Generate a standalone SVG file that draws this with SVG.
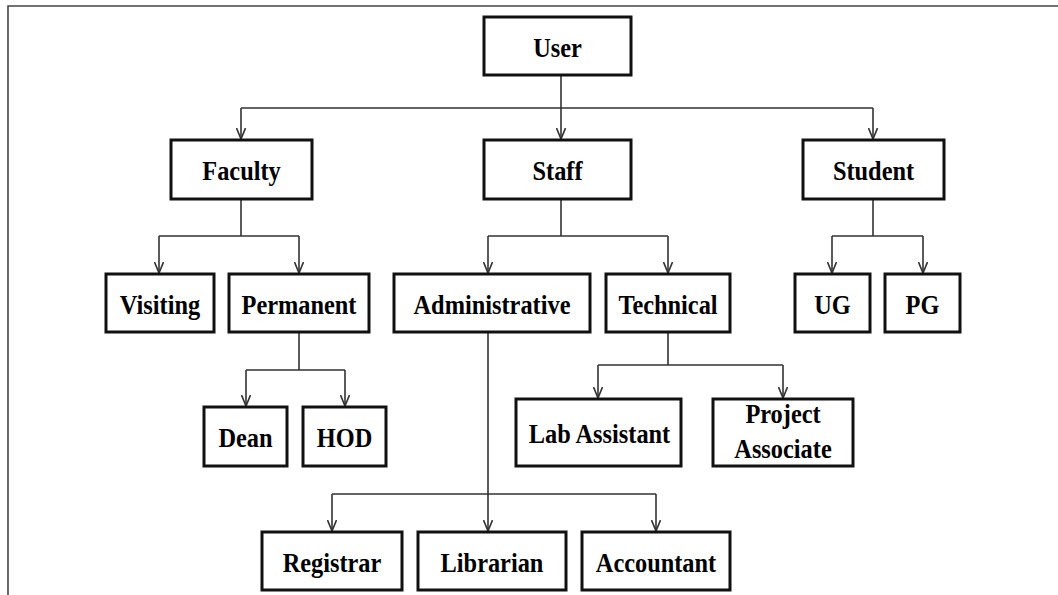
<svg xmlns="http://www.w3.org/2000/svg" width="1058" height="595" viewBox="0 0 1058 595">
<style>
.box{fill:#fff;stroke:#111;stroke-width:3}
.lbl{font-family:"Liberation Serif","Times New Roman",serif;font-weight:bold;font-size:28px;fill:#000;text-anchor:middle}
.con{fill:none;stroke:#333;stroke-width:1.6}
.arr{fill:none;stroke:#333;stroke-width:1.6;marker-end:url(#ah)}
</style>
<defs>
<marker id="ah" viewBox="0 0 12 10" refX="11.5" refY="5" markerWidth="12" markerHeight="10" markerUnits="userSpaceOnUse" orient="auto">
<path d="M0.5,0.5 L11.5,5 L0.5,9.5" fill="none" stroke="#333" stroke-width="1.6"/>
</marker>
</defs>
<rect width="1058" height="595" fill="#fff"/>
<polyline points="8,595 8,6 1058,6" fill="none" stroke="#444" stroke-width="1.6"/>
<g id="connectors">
<path class="con" d="M561,75 V108 M241,108 H873"/>
<path class="arr" d="M241,108 V139"/>
<path class="arr" d="M561,108 V139"/>
<path class="arr" d="M873,108 V139"/>
<path class="con" d="M241,199 V236 M159,236 H299"/>
<path class="arr" d="M159,236 V273"/>
<path class="arr" d="M299,236 V273"/>
<path class="con" d="M561,199 V236 M488,236 H668"/>
<path class="arr" d="M488,236 V273"/>
<path class="arr" d="M668,236 V273"/>
<path class="con" d="M873,199 V236 M832,236 H923"/>
<path class="arr" d="M832,236 V273"/>
<path class="arr" d="M923,236 V273"/>
<path class="con" d="M299,332 V370 M246,370 H345"/>
<path class="arr" d="M246,370 V406"/>
<path class="arr" d="M345,370 V406"/>
<path class="con" d="M488,332 V494 M332,494 H656"/>
<path class="arr" d="M332,494 V531"/>
<path class="arr" d="M488,494 V531"/>
<path class="arr" d="M656,494 V531"/>
<path class="con" d="M668,332 V365 M598,365 H783"/>
<path class="arr" d="M598,365 V398"/>
<path class="arr" d="M783,365 V398"/>
</g>
<g id="user"><rect class="box" x="484" y="17" width="147" height="58"/><text class="lbl" transform="translate(557.5,57) scale(0.87,1)">User</text></g>
<g id="faculty"><rect class="box" x="171" y="140" width="141" height="59"/><text class="lbl" transform="translate(241.5,180) scale(0.87,1)">Faculty</text></g>
<g id="staff"><rect class="box" x="484" y="140" width="147" height="59"/><text class="lbl" transform="translate(557.5,180) scale(0.87,1)">Staff</text></g>
<g id="student"><rect class="box" x="803" y="140" width="141" height="59"/><text class="lbl" transform="translate(873.5,180) scale(0.87,1)">Student</text></g>
<g id="visiting"><rect class="box" x="106" y="274" width="108" height="58"/><text class="lbl" transform="translate(160,314) scale(0.87,1)">Visiting</text></g>
<g id="permanent"><rect class="box" x="229" y="274" width="140" height="58"/><text class="lbl" transform="translate(299,314) scale(0.87,1)">Permanent</text></g>
<g id="administrative"><rect class="box" x="394" y="274" width="196" height="58"/><text class="lbl" transform="translate(492,314) scale(0.87,1)">Administrative</text></g>
<g id="technical"><rect class="box" x="606" y="274" width="124" height="58"/><text class="lbl" transform="translate(668,314) scale(0.87,1)">Technical</text></g>
<g id="ug"><rect class="box" x="795" y="274" width="75" height="58"/><text class="lbl" transform="translate(832.5,314) scale(0.87,1)">UG</text></g>
<g id="pg"><rect class="box" x="885" y="274" width="75" height="58"/><text class="lbl" transform="translate(922.5,314) scale(0.87,1)">PG</text></g>
<g id="dean"><rect class="box" x="204" y="407" width="83" height="59"/><text class="lbl" transform="translate(245.5,447) scale(0.87,1)">Dean</text></g>
<g id="hod"><rect class="box" x="303" y="407" width="83" height="59"/><text class="lbl" transform="translate(344.5,447) scale(0.87,1)">HOD</text></g>
<g id="lab-assistant"><rect class="box" x="516" y="399" width="165" height="67"/><text class="lbl" transform="translate(599.5,443) scale(0.87,1)">Lab Assistant</text></g>
<g id="project-associate"><rect class="box" x="713" y="399" width="140" height="67"/><text class="lbl" transform="translate(783,423) scale(0.87,1)">Project</text><text class="lbl" transform="translate(783,458) scale(0.87,1)">Associate</text></g>
<g id="registrar"><rect class="box" x="262" y="532" width="140" height="58"/><text class="lbl" transform="translate(332,572) scale(0.87,1)">Registrar</text></g>
<g id="librarian"><rect class="box" x="418" y="532" width="148" height="58"/><text class="lbl" transform="translate(492,572) scale(0.87,1)">Librarian</text></g>
<g id="accountant"><rect class="box" x="582" y="532" width="148" height="58"/><text class="lbl" transform="translate(656,572) scale(0.87,1)">Accountant</text></g>
</svg>
